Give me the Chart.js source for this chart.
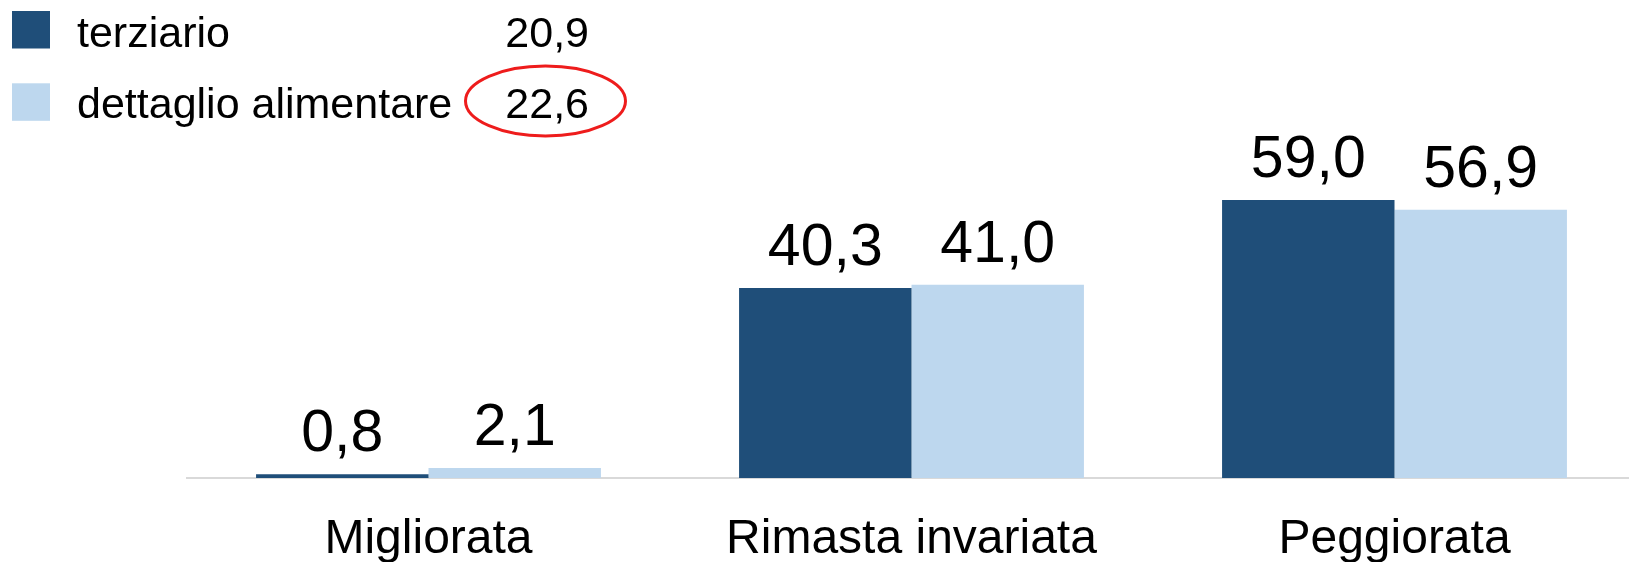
<!DOCTYPE html>
<html lang="it">
<head>
<meta charset="utf-8">
<title>Situazione economica</title>
<script src="https://cdn.jsdelivr.net/npm/chart.js@4/dist/chart.umd.min.js"></script>
<style>
    html, body { margin: 0; padding: 0; background: #fff; overflow: hidden; }
    #wrap { position: relative; width: 1636px; height: 562px; }
</style>
</head>
<body>
<div id="wrap"><canvas id="barChart"></canvas></div>
<script>
// Chart data
const categories = ['Migliorata', 'Rimasta invariata', 'Peggiorata'];
const seriesNames = ['terziario', 'dettaglio alimentare'];
const terziario = [0.8, 40.3, 59.0];
const dettaglioAlimentare = [2.1, 41.0, 56.9];
const legendValues = [20.9, 22.6];

const colors = ['#1f4e79', '#bdd7ee'];
const FONT = '"Liberation Sans", Arial, sans-serif';

function fmt(v) {
    return v.toFixed(1).replace('.', ',');
}

// Values printed above each bar
const barLabels = {
    id: 'barLabels',
    afterDatasetsDraw(chart) {
        const ctx = chart.ctx;
        ctx.save();
        ctx.fillStyle = '#000';
        ctx.font = '59px ' + FONT;
        ctx.textAlign = 'center';
        ctx.textBaseline = 'alphabetic';
        chart.data.datasets.forEach((ds, i) => {
            chart.getDatasetMeta(i).data.forEach((bar, j) => {
                ctx.fillText(fmt(ds.data[j]), bar.x, bar.y - 23);
            });
        });
        ctx.restore();
    }
};

// Legend in the top-left corner with the totals on the right
const sideLegend = {
    id: 'sideLegend',
    afterDraw(chart) {
        const ctx = chart.ctx;
        ctx.save();
        ctx.font = '43px ' + FONT;
        ctx.textBaseline = 'alphabetic';
        chart.data.datasets.forEach((ds, i) => {
            const top = 11 + i * 72.3;
            const base = 46.7 + i * 71.6;
            ctx.fillStyle = ds.backgroundColor;
            ctx.fillRect(12, top, 38, 37.5);
            ctx.fillStyle = '#000';
            ctx.textAlign = 'left';
            ctx.fillText(ds.label, 77, base);
            ctx.textAlign = 'right';
            ctx.fillText(fmt(legendValues[i]), 589, base);
        });
        // highlight on the second total
        ctx.strokeStyle = '#ee1c1c';
        ctx.lineWidth = 3;
        ctx.beginPath();
        ctx.ellipse(545.5, 101, 80, 35, 0, 0, Math.PI * 2);
        ctx.stroke();
        ctx.restore();
    }
};

new Chart(document.getElementById('barChart'), {
    type: 'bar',
    data: {
        labels: categories,
        datasets: [
            { label: seriesNames[0], data: terziario, backgroundColor: colors[0] },
            { label: seriesNames[1], data: dettaglioAlimentare, backgroundColor: colors[1] }
        ]
    },
    options: {
        responsive: true,
        maintainAspectRatio: false,
        animation: false,
        categoryPercentage: 0.714,
        barPercentage: 1.0,
        layout: { padding: { top: 101, left: 187, right: 0, bottom: 0 } },
        scales: {
            x: {
                grid: { display: false, drawTicks: false },
                border: { display: true, color: '#d9d9d9', width: 2 },
                ticks: {
                    color: '#000',
                    padding: 38,
                    font: { size: 48, family: FONT, lineHeight: 1 }
                },
                afterFit(scale) { scale.height = 84; }
            },
            y: {
                display: false,
                min: 0,
                max: 80
            }
        },
        plugins: {
            legend: { display: false },
            tooltip: { enabled: false }
        }
    },
    plugins: [barLabels, sideLegend]
});
</script>
</body>
</html>
